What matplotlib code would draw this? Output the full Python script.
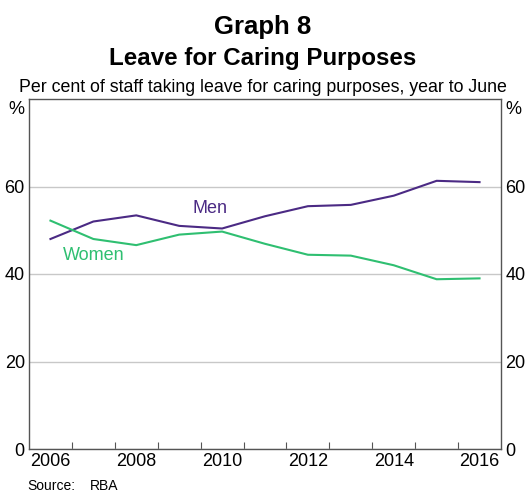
import numpy as np
import matplotlib.pyplot as plt

plt.rcParams['font.family'] = ['Liberation Sans', 'DejaVu Sans']

# Year to June, per cent of staff taking carer's leave
years = np.arange(2006, 2017)
men = [48.0, 52.0, 53.4, 51.0, 50.4, 53.2, 55.5, 55.8, 57.9, 61.3, 61.0]
women = [52.2, 48.0, 46.6, 49.0, 49.7, 46.9, 44.4, 44.2, 42.0, 38.8, 39.0]

men_col = '#4b2a84'
women_col = '#2fbf71'

W, H = 526, 495
fig = plt.figure(figsize=(W / 100, H / 100), dpi=100)
ax = fig.add_axes([29 / W, 1 - 449 / H, 472 / W, 350 / H])

# points sit at mid-year (June)
x = years + 0.5
ax.plot(x, men, color=men_col, lw=1.5)
ax.plot(x, women, color=women_col, lw=1.5)

ax.set_xlim(2006, 2017)
ax.set_ylim(0, 80)

ax.set_yticks([0, 20, 40, 60])
ax.yaxis.grid(True, color='#c8c8c8', lw=1)
ax.set_axisbelow(True)
ax.tick_params(axis='y', length=0, labelsize=13, pad=3,
               labelleft=True, labelright=True)

ax.set_xticks(np.arange(2007, 2017))
ax.set_xticklabels([])
ax.set_xticks(np.arange(2006, 2017, 2) + 0.5, minor=True)
ax.set_xticklabels([str(y) for y in range(2006, 2017, 2)], minor=True)
ax.tick_params(axis='x', which='major', direction='in', length=5, color='#555555')
ax.tick_params(axis='x', which='minor', length=0, labelsize=13, pad=3)

for s in ax.spines.values():
    s.set_color('#555555')
    s.set_linewidth(1)

ax.text(-0.01, 0.995, '%', transform=ax.transAxes, ha='right', va='top', fontsize=13)
ax.text(1.01, 0.995, '%', transform=ax.transAxes, ha='left', va='top', fontsize=13)

ax.text(2010.22, 54.9, 'Men', color=men_col, fontsize=13, ha='center', va='center')
ax.text(2006.79, 44.2, 'Women', color=women_col, fontsize=13, ha='left', va='center')

fig.text(0.5, 1 - 27 / H, 'Graph 8', ha='center', va='center', fontsize=18.5, fontweight='bold')
fig.text(0.5, 1 - 59 / H, 'Leave for Caring Purposes', ha='center', va='center',
         fontsize=17.4, fontweight='bold')
fig.text(0.5, 1 - 87 / H, 'Per cent of staff taking leave for caring purposes, year to June',
         ha='center', va='center', fontsize=12.8)
fig.text(27 / W, 1 - 486 / H, 'Source:', ha='left', va='center', fontsize=10)
fig.text(90 / W, 1 - 486 / H, 'RBA', ha='left', va='center', fontsize=10)

fig.savefig('out.png', dpi=100)
